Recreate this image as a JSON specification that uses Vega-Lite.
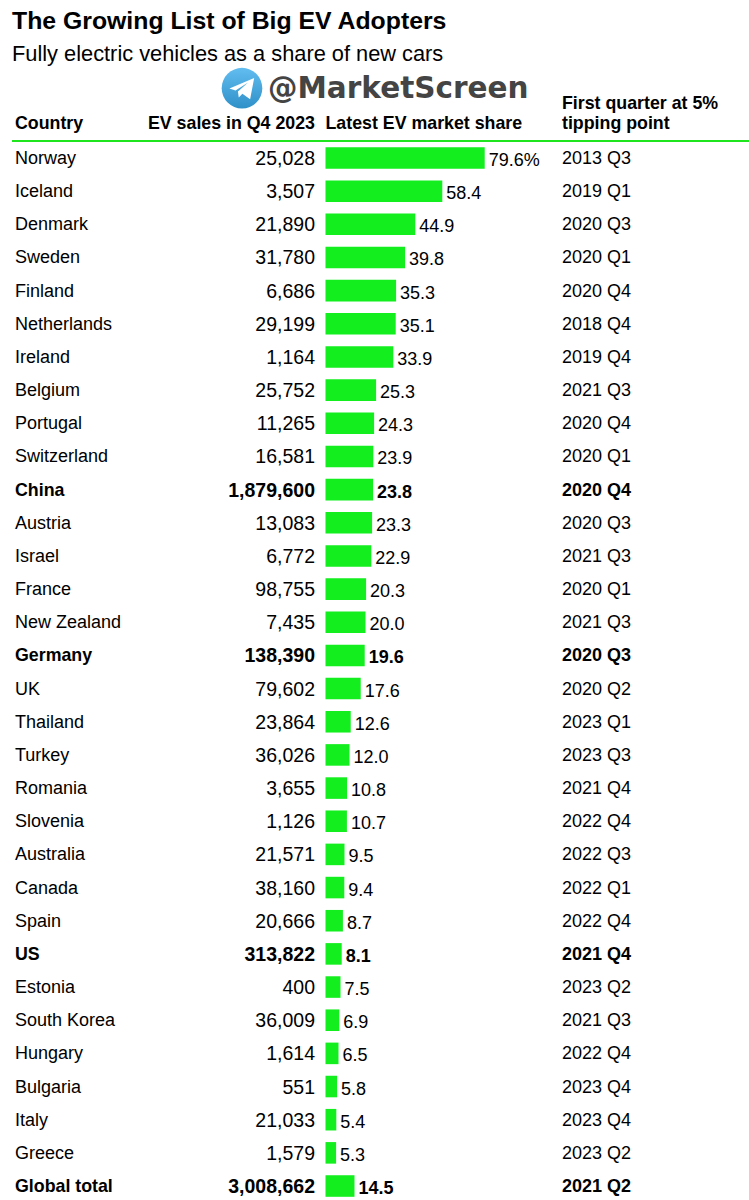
{
  "$schema": "https://vega.github.io/schema/vega-lite/v6.json",
  "width": 749,
  "height": 1200,
  "autosize": "none",
  "padding": 0,
  "background": "white",
  "config": {"view": {"stroke": null}},
  "title": {
    "text": "The Growing List of Big EV Adopters",
    "subtitle": "Fully electric vehicles as a share of new cars",
    "anchor": "start",
    "frame": "group",
    "orient": "top",
    "offset": -66,
    "dx": 12,
    "font": "Liberation Sans",
    "fontSize": 24.8,
    "fontWeight": "bold",
    "color": "#000000",
    "subtitleFont": "Liberation Sans",
    "subtitleFontSize": 21.8,
    "subtitleFontWeight": "normal",
    "subtitleColor": "#000000",
    "subtitlePadding": 10
  },
  "datasets": {
    "rows": [
      {"country": "Norway", "sales": 25028, "share": 79.6, "label": "79.6%", "quarter": "2013 Q3", "bold": false},
      {"country": "Iceland", "sales": 3507, "share": 58.4, "label": "58.4", "quarter": "2019 Q1", "bold": false},
      {"country": "Denmark", "sales": 21890, "share": 44.9, "label": "44.9", "quarter": "2020 Q3", "bold": false},
      {"country": "Sweden", "sales": 31780, "share": 39.8, "label": "39.8", "quarter": "2020 Q1", "bold": false},
      {"country": "Finland", "sales": 6686, "share": 35.3, "label": "35.3", "quarter": "2020 Q4", "bold": false},
      {"country": "Netherlands", "sales": 29199, "share": 35.1, "label": "35.1", "quarter": "2018 Q4", "bold": false},
      {"country": "Ireland", "sales": 1164, "share": 33.9, "label": "33.9", "quarter": "2019 Q4", "bold": false},
      {"country": "Belgium", "sales": 25752, "share": 25.3, "label": "25.3", "quarter": "2021 Q3", "bold": false},
      {"country": "Portugal", "sales": 11265, "share": 24.3, "label": "24.3", "quarter": "2020 Q4", "bold": false},
      {"country": "Switzerland", "sales": 16581, "share": 23.9, "label": "23.9", "quarter": "2020 Q1", "bold": false},
      {"country": "China", "sales": 1879600, "share": 23.8, "label": "23.8", "quarter": "2020 Q4", "bold": true},
      {"country": "Austria", "sales": 13083, "share": 23.3, "label": "23.3", "quarter": "2020 Q3", "bold": false},
      {"country": "Israel", "sales": 6772, "share": 22.9, "label": "22.9", "quarter": "2021 Q3", "bold": false},
      {"country": "France", "sales": 98755, "share": 20.3, "label": "20.3", "quarter": "2020 Q1", "bold": false},
      {"country": "New Zealand", "sales": 7435, "share": 20.0, "label": "20.0", "quarter": "2021 Q3", "bold": false},
      {"country": "Germany", "sales": 138390, "share": 19.6, "label": "19.6", "quarter": "2020 Q3", "bold": true},
      {"country": "UK", "sales": 79602, "share": 17.6, "label": "17.6", "quarter": "2020 Q2", "bold": false},
      {"country": "Thailand", "sales": 23864, "share": 12.6, "label": "12.6", "quarter": "2023 Q1", "bold": false},
      {"country": "Turkey", "sales": 36026, "share": 12.0, "label": "12.0", "quarter": "2023 Q3", "bold": false},
      {"country": "Romania", "sales": 3655, "share": 10.8, "label": "10.8", "quarter": "2021 Q4", "bold": false},
      {"country": "Slovenia", "sales": 1126, "share": 10.7, "label": "10.7", "quarter": "2022 Q4", "bold": false},
      {"country": "Australia", "sales": 21571, "share": 9.5, "label": "9.5", "quarter": "2022 Q3", "bold": false},
      {"country": "Canada", "sales": 38160, "share": 9.4, "label": "9.4", "quarter": "2022 Q1", "bold": false},
      {"country": "Spain", "sales": 20666, "share": 8.7, "label": "8.7", "quarter": "2022 Q4", "bold": false},
      {"country": "US", "sales": 313822, "share": 8.1, "label": "8.1", "quarter": "2021 Q4", "bold": true},
      {"country": "Estonia", "sales": 400, "share": 7.5, "label": "7.5", "quarter": "2023 Q2", "bold": false},
      {"country": "South Korea", "sales": 36009, "share": 6.9, "label": "6.9", "quarter": "2021 Q3", "bold": false},
      {"country": "Hungary", "sales": 1614, "share": 6.5, "label": "6.5", "quarter": "2022 Q4", "bold": false},
      {"country": "Bulgaria", "sales": 551, "share": 5.8, "label": "5.8", "quarter": "2023 Q4", "bold": false},
      {"country": "Italy", "sales": 21033, "share": 5.4, "label": "5.4", "quarter": "2023 Q4", "bold": false},
      {"country": "Greece", "sales": 1579, "share": 5.3, "label": "5.3", "quarter": "2023 Q2", "bold": false},
      {"country": "Global total", "sales": 3008662, "share": 14.5, "label": "14.5", "quarter": "2021 Q2", "bold": true}
    ],
    "head": [{"country": "Header"}],
    "mark": [{"country": "Watermark"}]
  },
  "data": {"name": "rows"},
  "encoding": {
    "y": {
      "field": "country",
      "type": "nominal",
      "axis": null,
      "scale": {
        "domain": ["Watermark", "Header", "Norway", "Iceland", "Denmark", "Sweden", "Finland", "Netherlands", "Ireland", "Belgium", "Portugal", "Switzerland", "China", "Austria", "Israel", "France", "New Zealand", "Germany", "UK", "Thailand", "Turkey", "Romania", "Slovenia", "Australia", "Canada", "Spain", "US", "Estonia", "South Korea", "Hungary", "Bulgaria", "Italy", "Greece", "Global total"],
        "range": [75.1, 1202.6],
        "paddingInner": 0.35,
        "paddingOuter": 0.175
      }
    }
  },
  "layer": [
    {
      "mark": {"type": "bar", "color": "#12ee1e"},
      "encoding": {
        "x": {"field": "share", "type": "quantitative", "axis": null, "scale": {"domain": [-162.75, 211.75], "nice": false, "zero": false}}
      }
    },
    {
      "data": {"name": "head"},
      "mark": {"type": "rule", "color": "#1fe51f", "strokeWidth": 2},
      "encoding": {
        "x": {"datum": -156.75},
        "x2": {"datum": 211.75},
        "y": {
          "field": "country",
          "type": "nominal",
          "bandPosition": 1.25,
          "axis": null,
          "scale": {
            "domain": ["Watermark", "Header", "Norway", "Iceland", "Denmark", "Sweden", "Finland", "Netherlands", "Ireland", "Belgium", "Portugal", "Switzerland", "China", "Austria", "Israel", "France", "New Zealand", "Germany", "UK", "Thailand", "Turkey", "Romania", "Slovenia", "Australia", "Canada", "Spain", "US", "Estonia", "South Korea", "Hungary", "Bulgaria", "Italy", "Greece", "Global total"],
            "range": [75.1, 1202.6],
            "paddingInner": 0.35,
            "paddingOuter": 0.175
          }
        }
      }
    },
    {
      "data": {"name": "mark"},
      "mark": {
        "type": "point",
        "shape": "circle",
        "filled": true,
        "opacity": 1,
        "size": 1650,
        "fill": {
          "gradient": "linear", "x1": 0, "y1": 0, "x2": 0, "y2": 1,
          "stops": [{"offset": 0, "color": "#62bdf0"}, {"offset": 1, "color": "#2f90c8"}]
        },
        "yOffset": -3.5
      },
      "encoding": {"x": {"datum": -41.75}}
    },
    {
      "data": {"name": "mark"},
      "mark": {
        "type": "point",
        "shape": "M-0.62,0.02 L0.6,-0.5 L0.4,0.55 L0.02,0.27 L-0.16,0.46 L-0.2,0.16 L0.3,-0.28 L-0.32,0.12 Z",
        "filled": true,
        "opacity": 1,
        "color": "white",
        "size": 1650,
        "yOffset": -3.5
      },
      "encoding": {"x": {"datum": -41.75}}
    },
    {
      "data": {"name": "mark"},
      "mark": {"type": "text", "align": "left", "baseline": "middle", "font": "DejaVu Sans", "fontSize": 29.5, "fontWeight": "bold", "fill": "#444444", "dy": -2.5},
      "encoding": {"x": {"datum": -28.75}, "text": {"value": "@MarketScreen"}}
    },
    {
      "data": {"name": "head"},
      "mark": {"type": "text", "align": "left", "baseline": "middle", "font": "Liberation Sans", "fontSize": 17.8, "fontWeight": "bold", "fill": "#000000", "dy": -0.5},
      "encoding": {"x": {"datum": -155.25}, "text": {"value": "Country"}}
    },
    {
      "data": {"name": "head"},
      "mark": {"type": "text", "align": "right", "baseline": "middle", "font": "Liberation Sans", "fontSize": 17.8, "fontWeight": "bold", "fill": "#000000", "dy": -0.5},
      "encoding": {"x": {"datum": -5.25}, "text": {"value": "EV sales in Q4 2023"}}
    },
    {
      "data": {"name": "head"},
      "mark": {"type": "text", "align": "left", "baseline": "middle", "font": "Liberation Sans", "fontSize": 17.8, "fontWeight": "bold", "fill": "#000000", "dy": -0.5},
      "encoding": {"x": {"datum": 0}, "text": {"value": "Latest EV market share"}}
    },
    {
      "data": {"name": "head"},
      "mark": {"type": "text", "align": "left", "baseline": "middle", "font": "Liberation Sans", "fontSize": 17.8, "fontWeight": "bold", "fill": "#000000", "dy": -20.5, "lineHeight": 20},
      "encoding": {"x": {"datum": 118.25}, "text": {"value": ["First quarter at 5%", "tipping point"]}}
    },
    {
      "transform": [{"filter": "!datum.bold"}],
      "mark": {"type": "text", "align": "left", "baseline": "middle", "font": "Liberation Sans", "fontSize": 18, "fill": "#000000", "dy": 1},
      "encoding": {"x": {"datum": -155.25}, "text": {"field": "country"}}
    },
    {
      "transform": [{"filter": "datum.bold"}],
      "mark": {"type": "text", "align": "left", "baseline": "middle", "font": "Liberation Sans", "fontSize": 17.8, "fontWeight": "bold", "fill": "#000000", "dy": 1},
      "encoding": {"x": {"datum": -155.25}, "text": {"field": "country"}}
    },
    {
      "transform": [{"filter": "!datum.bold"}],
      "mark": {"type": "text", "align": "right", "baseline": "middle", "font": "Liberation Sans", "fontSize": 19.5, "fill": "#000000", "dy": 1},
      "encoding": {"x": {"datum": -5.25}, "text": {"field": "sales", "type": "quantitative", "format": ","}}
    },
    {
      "transform": [{"filter": "datum.bold"}],
      "mark": {"type": "text", "align": "right", "baseline": "middle", "font": "Liberation Sans", "fontSize": 19.5, "fontWeight": "bold", "fill": "#000000", "dy": 1},
      "encoding": {"x": {"datum": -5.25}, "text": {"field": "sales", "type": "quantitative", "format": ","}}
    },
    {
      "transform": [{"filter": "!datum.bold"}],
      "mark": {"type": "text", "align": "left", "baseline": "middle", "font": "Liberation Sans", "fontSize": 18, "fill": "#000000", "dx": 4, "dy": 3},
      "encoding": {"x": {"field": "share", "type": "quantitative"}, "text": {"field": "label"}}
    },
    {
      "transform": [{"filter": "datum.bold"}],
      "mark": {"type": "text", "align": "left", "baseline": "middle", "font": "Liberation Sans", "fontSize": 18, "fontWeight": "bold", "fill": "#000000", "dx": 4, "dy": 3},
      "encoding": {"x": {"field": "share", "type": "quantitative"}, "text": {"field": "label"}}
    },
    {
      "transform": [{"filter": "!datum.bold"}],
      "mark": {"type": "text", "align": "left", "baseline": "middle", "font": "Liberation Sans", "fontSize": 18, "fill": "#000000", "dy": 1},
      "encoding": {"x": {"datum": 118.25}, "text": {"field": "quarter"}}
    },
    {
      "transform": [{"filter": "datum.bold"}],
      "mark": {"type": "text", "align": "left", "baseline": "middle", "font": "Liberation Sans", "fontSize": 18, "fontWeight": "bold", "fill": "#000000", "dy": 1},
      "encoding": {"x": {"datum": 118.25}, "text": {"field": "quarter"}}
    }
  ]
}
